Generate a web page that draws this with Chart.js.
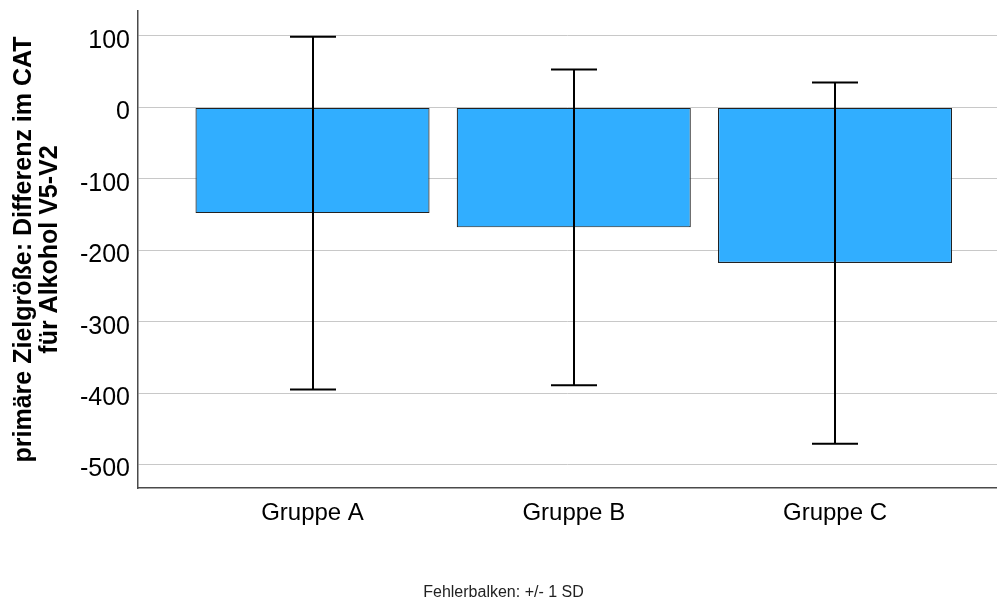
<!DOCTYPE html>
<html>
<head>
<meta charset="utf-8">
<script src="https://cdn.jsdelivr.net/npm/chart.js@4/dist/chart.umd.min.js"></script>
<style>
  body { margin: 0; background: #fff; }
  canvas { display: block; }
</style>
</head>
<body>
<canvas id="chart" width="997" height="601"></canvas>
<script>
// values
var categories = ['Gruppe A', 'Gruppe B', 'Gruppe C'];
var means = [-148, -168, -218];
var sds = [247, 221, 253];
var yTicks = [100, 0, -100, -200, -300, -400, -500];

var FONT = "'Liberation Sans', Arial, sans-serif";

// draws the +/- 1 SD whiskers on top of the bars
var errorBars = {
    id: 'errorBars',
    afterDatasetsDraw: function(chart) {
        var ctx = chart.ctx;
        var yScale = chart.scales.y;
        var meta = chart.getDatasetMeta(0);
        ctx.save();
        ctx.strokeStyle = '#000';
        ctx.lineWidth = 2;
        meta.data.forEach(function(bar, i) {
            var x = Math.round(bar.x);
            var top = yScale.getPixelForValue(means[i] + sds[i]);
            var bottom = yScale.getPixelForValue(means[i] - sds[i]);
            var half = 23;
            ctx.beginPath();
            ctx.moveTo(x, top);
            ctx.lineTo(x, bottom);
            ctx.moveTo(x - half, top);
            ctx.lineTo(x + half, top);
            ctx.moveTo(x - half, bottom);
            ctx.lineTo(x + half, bottom);
            ctx.stroke();
        });
        ctx.restore();
    }
};

var ctx = document.getElementById('chart').getContext('2d');
var chart = new Chart(ctx, {
    type: 'bar',
    data: {
        datasets: [{
            data: means.map(function(m, i) { return { x: i + 1, y: m }; }),
            backgroundColor: '#31aeff',
            borderColor: '#222',
            borderWidth: 1.2,
            borderSkipped: false,
            categoryPercentage: 1,
            barPercentage: 0.896
        }]
    },
    options: {
        responsive: false,
        animation: false,
        devicePixelRatio: 1,
        layout: { padding: { left: 10, top: 11, right: 0, bottom: 0 } },
        plugins: {
            legend: { display: false },
            tooltip: { enabled: false },
            title: {
                display: true,
                position: 'bottom',
                text: 'Fehlerbalken: +/- 1 SD',
                color: '#222',
                font: { family: FONT, size: 16, weight: 'normal', lineHeight: 1.1 },
                padding: { top: 0, bottom: 0 }
            }
        },
        scales: {
            x: {
                type: 'linear',
                offset: false,
                min: 0.332,
                max: 3.62,
                grid: { display: false, drawTicks: false },
                border: { display: true, color: '#4a4a4a', width: 1.5 },
                afterBuildTicks: function(scale) {
                    scale.ticks = categories.map(function(c, i) { return { value: i + 1 }; });
                },
                afterFit: function(scale) {
                    scale.height = 95.4;
                    scale.paddingLeft = 0;
                    scale.paddingRight = 0;
                },
                ticks: {
                    color: '#000',
                    padding: 11,
                    maxRotation: 0,
                    autoSkip: false,
                    font: { family: FONT, size: 24 },
                    callback: function(v) { return categories[v - 1]; }
                }
            },
            y: {
                min: -533,
                max: 135,
                grid: { color: '#c8c8c8', lineWidth: 1, drawTicks: false },
                border: { display: true, color: '#4a4a4a', width: 1.5 },
                afterBuildTicks: function(scale) {
                    scale.ticks = yTicks.map(function(v) { return { value: v }; });
                },
                afterFit: function(scale) {
                    scale.width = 128;
                    scale.paddingTop = 0;
                    scale.paddingBottom = 0;
                },
                ticks: {
                    color: '#000',
                    padding: 8,
                    labelOffset: 5,
                    font: { family: FONT, size: 25 }
                },
                title: {
                    display: true,
                    text: ['primäre Zielgröße: Differenz im CAT', 'für Alkohol V5-V2'],
                    color: '#000',
                    font: { family: FONT, size: 25, weight: 'bold', lineHeight: 1.04 },
                    padding: { top: 1, bottom: 0 }
                }
            }
        }
    },
    plugins: [errorBars]
});
</script>
</body>
</html>
